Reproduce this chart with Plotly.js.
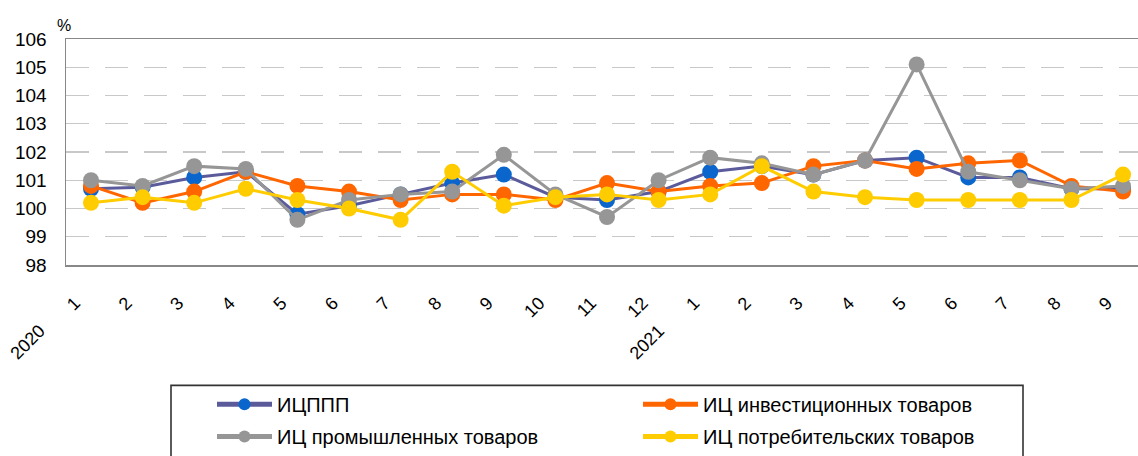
<!DOCTYPE html>
<html>
<head>
<meta charset="utf-8">
<script src="https://cdn.plot.ly/plotly-3.0.1.min.js"></script>
<style>html,body{margin:0;padding:0;background:#fff;}#chart{width:1138px;height:456px;}</style>
</head>
<body>
<div id="chart"></div>
<script>
// Month labels (2020: 1..12, 2021: 1..9)
const months = ["1","2","3","4","5","6","7","8","9","10","11","12","1","2","3","4","5","6","7","8","9"];
const years = ["2020", "2021"];
const yearStartIndex = [0, 12];

const seriesNames = ["ИЦППП", "ИЦ инвестиционных товаров", "ИЦ промышленных товаров", "ИЦ потребительских товаров"];
const icppp      = [100.7,100.75,101.1,101.3,99.8,100.1,100.5,100.9,101.2,100.4,100.3,100.6,101.3,101.5,101.2,101.7,101.8,101.1,101.1,100.7,100.7];
const icInvest   = [100.8,100.2,100.6,101.3,100.8,100.6,100.3,100.5,100.5,100.3,100.9,100.6,100.8,100.9,101.5,101.7,101.4,101.6,101.7,100.8,100.6];
const icIndustry = [101.0,100.8,101.5,101.4,99.6,100.3,100.5,100.6,101.9,100.5,99.7,101.0,101.8,101.6,101.2,101.7,105.1,101.3,101.0,100.7,100.8];
const icConsumer = [100.2,100.4,100.2,100.7,100.3,100.0,99.6,101.3,100.1,100.4,100.5,100.3,100.5,101.5,100.6,100.4,100.3,100.3,100.3,100.3,101.2];

const xIdx = months.map((_, i) => i);
const FONT = "Liberation Sans, Arial, sans-serif";

function mk(name, y, lineColor, markerColor, legendId) {
  return {
    type: "scatter", mode: "lines+markers", name: name, x: xIdx, y: y,
    line: {color: lineColor, width: 3},
    marker: {color: markerColor, size: 16},
    legend: legendId, hoverinfo: "x+y+name"
  };
}

const traces = [
  mk(seriesNames[0], icppp, "#5b5b9c", "#0a66cc", "legend"),
  mk(seriesNames[1], icInvest, "#ff6600", "#ff6600", "legend"),
  mk(seriesNames[2], icIndustry, "#969696", "#969696", "legend2"),
  mk(seriesNames[3], icConsumer, "#ffcc00", "#ffcc00", "legend2")
];

const PB = 268, PH = 229, PL = 66, PW = 1072;
const XMIN = -0.4845, XMAX = 20.29;
const STEP = PW / (XMAX - XMIN);
const py = v => (PB - v) / PH;
const px = v => (v - PL) / PW;
const idxToPx = i => PL + (i - XMIN) * STEP;

const annotations = years.map((yr, k) => ({
  text: yr, xref: "paper", yref: "paper", x: px(idxToPx(yearStartIndex[k]) - 39), y: py(322),
  xanchor: "right", yanchor: "top", textangle: -45, showarrow: false,
  font: {family: FONT, size: 18, color: "#000"}
}));
annotations.push({
  text: "%", xref: "paper", yref: "paper", x: px(55), y: py(15),
  xanchor: "left", yanchor: "top", showarrow: false,
  font: {family: FONT, size: 16, color: "#000"}
});

const legendCommon = {
  orientation: "h", xanchor: "left", yanchor: "middle",
  entrywidth: 356, entrywidthmode: "pixels", itemwidth: 55, itemsizing: "constant",
  font: {family: FONT, size: 20, color: "#000"}, bgcolor: "rgba(0,0,0,0)", borderwidth: 0
};

const layout = {
  width: 1138, height: 456,
  margin: {l: PL, r: 0, t: 39, b: 188},
  paper_bgcolor: "#fff", plot_bgcolor: "#fff",
  font: {family: FONT, color: "#000"},
  xaxis: {
    range: [XMIN, XMAX], tickmode: "array", tickvals: xIdx, ticktext: months,
    tickangle: -45, ticks: "", showgrid: false, zeroline: false,
    showline: true, linecolor: "#888888", linewidth: 1.5, mirror: true,
    tickfont: {family: FONT, size: 18, color: "#000"},
    ticklabelstandoff: 19, ticklabelshift: -16
  },
  yaxis: {
    range: [98, 106], dtick: 1, ticks: "", zeroline: false,
    showline: true, linecolor: "#888888", linewidth: 1.5, mirror: false,
    showgrid: true, gridcolor: "#c8c8c8", gridwidth: 1.3, griddash: "23px,16px",
    tickfont: {family: FONT, size: 19, color: "#000"},
    ticklabelstandoff: 14
  },
  showlegend: true,
  legend: Object.assign({}, legendCommon, {x: px(212), y: py(409)}),
  legend2: Object.assign({}, legendCommon, {x: px(212), y: py(442)}),
  shapes: [{
    type: "rect", xref: "paper", yref: "paper",
    x0: px(171), x1: px(1023), y0: py(480), y1: py(390),
    line: {color: "#333333", width: 1.6}, fillcolor: "rgba(0,0,0,0)", layer: "below"
  }],
  annotations: annotations
};

Plotly.newPlot("chart", traces, layout, {displayModeBar: false, staticPlot: true});
</script>
</body>
</html>
